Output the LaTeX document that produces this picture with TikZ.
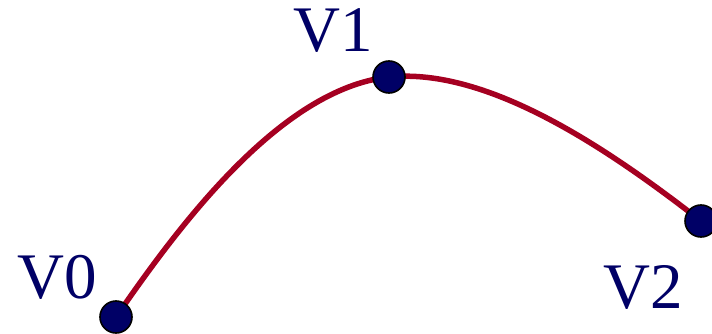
\documentclass[tikz,border=0pt]{standalone}
\usepackage{fontspec}
\setmainfont{Liberation Serif}
\usetikzlibrary{backgrounds}
\definecolor{navy}{HTML}{000066}
\definecolor{curvered}{HTML}{A50021}
\tikzset{
  vertex/.style={circle, fill=navy, draw=black, line width=1.6pt, minimum size=32pt, inner sep=0pt},
  vlabel/.style={text=navy, font=\fontsize{65}{65}\selectfont, anchor=base, inner sep=0pt},
  curveline/.style={draw=curvered, line width=5.5pt}
}
\begin{document}
\begin{tikzpicture}[x=1pt,y=-1pt]
\useasboundingbox (0,0) rectangle (712,334);
\clip (0,0) rectangle (712,334);
\node[vertex] (v0) at (116,317) {};
\node[vertex] (v1) at (389,77) {};
\node[vertex] (v2) at (701,221) {};
\begin{scope}[on background layer]
\draw[curveline] (v0.center) .. controls +(60,-87) and +(-110,12) .. (v1.center)
  .. controls +(100,-10) and +(-90,-70) .. (v2.center);
\end{scope}
\node[vlabel] (l0) at (57,298) {V0};
\node[vlabel] (l1) at (333,52) {V1};
\node[vlabel] (l2) at (643,308) {V2};
\end{tikzpicture}
\end{document}
